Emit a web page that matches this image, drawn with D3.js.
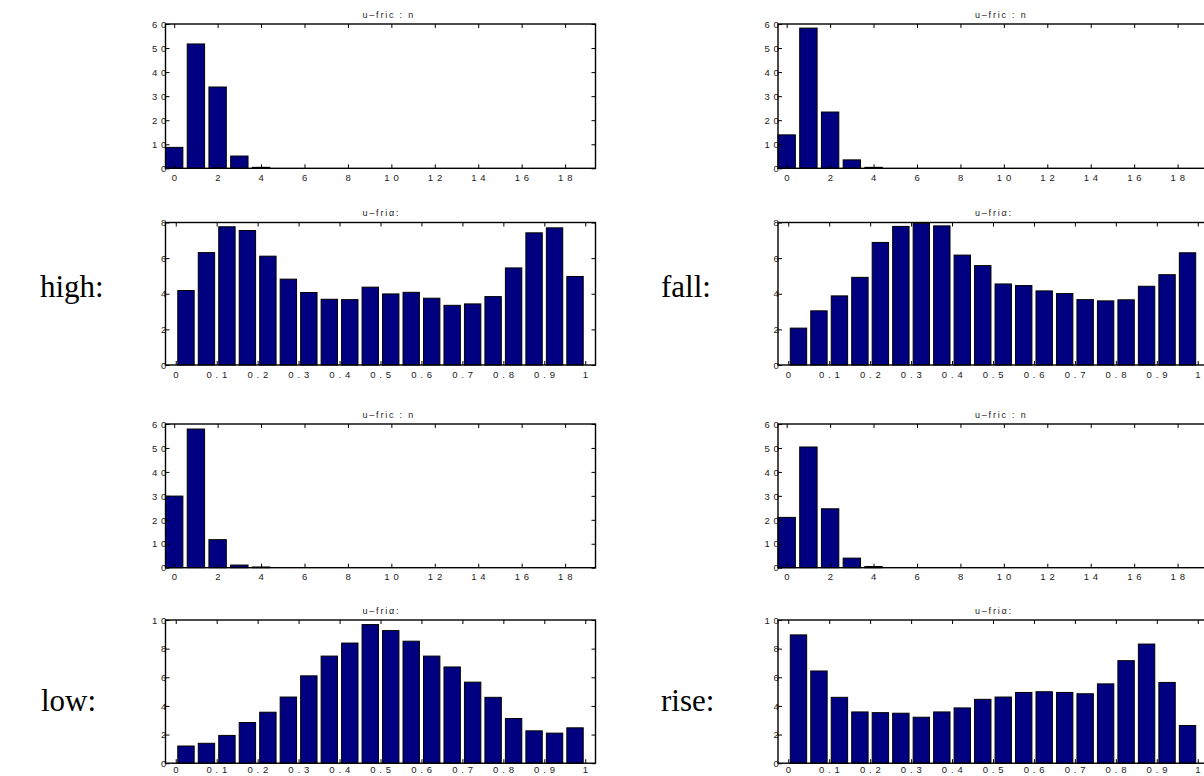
<!DOCTYPE html>
<html>
<head>
<meta charset="utf-8">
<script src="https://cdn.jsdelivr.net/npm/d3@7"></script>
<style>
  html, body { margin: 0; padding: 0; background: #fff; }
  svg { display: block; }
  .tick text { font-family: "Liberation Sans", Arial, sans-serif; font-size: 9.5px; fill: #222; letter-spacing: 0.6px; }
</style>
</head>
<body>
<svg id="chart" width="1204" height="776"></svg>
<script>
// ---------- data ----------
const countBins = [0,1,2,3,4,5,6,7,8,9,10,11,12,13,14,15,16,17,18,19];
const alphaBins = [0.025,0.075,0.125,0.175,0.225,0.275,0.325,0.375,0.425,0.475,
                   0.525,0.575,0.625,0.675,0.725,0.775,0.825,0.875,0.925,0.975];

const highCounts = [8.7, 51.7, 33.8, 5.1, 0.4, 0,0,0,0,0,0,0,0,0,0,0,0,0,0,0];
const highAlpha  = [4.18, 6.31, 7.76, 7.55, 6.11, 4.82, 4.07, 3.69, 3.67, 4.37,
                    3.99, 4.08, 3.75, 3.35, 3.43, 3.84, 5.45, 7.42, 7.70, 4.97];
const fallCounts = [13.9, 58.3, 23.4, 3.5, 0.4, 0,0,0,0,0,0,0,0,0,0,0,0,0,0,0];
const fallAlpha  = [2.07, 3.04, 3.88, 4.92, 6.88, 7.78, 7.96, 7.81, 6.17, 5.58,
                    4.55, 4.46, 4.16, 4.01, 3.67, 3.60, 3.66, 4.42, 5.07, 6.30];
const lowCounts  = [29.9, 57.9, 11.7, 1.1, 0.3, 0,0,0,0,0,0,0,0,0,0,0,0,0,0,0];
const lowAlpha   = [1.20, 1.39, 1.94, 2.84, 3.56, 4.62, 6.10, 7.48, 8.39, 9.68,
                    9.26, 8.52, 7.48, 6.72, 5.66, 4.60, 3.12, 2.26, 2.10, 2.47];
const riseCounts = [21.0, 50.4, 24.6, 4.0, 0.5, 0,0,0,0,0,0,0,0,0,0,0,0,0,0,0];
const riseAlpha  = [8.96, 6.44, 4.60, 3.58, 3.53, 3.49, 3.21, 3.58, 3.86, 4.46,
                    4.62, 4.94, 4.99, 4.94, 4.85, 5.54, 7.16, 8.32, 5.64, 2.63];

const countXTicks  = [0,2,4,6,8,10,12,14,16,18];
const countXLabels = ["0","2","4","6","8","1 0","1 2","1 4","1 6","1 8"];
const alphaXTicks  = [0,0.1,0.2,0.3,0.4,0.5,0.6,0.7,0.8,0.9,1];
const alphaXLabels = ["0","0 . 1","0 . 2","0 . 3","0 . 4","0 . 5","0 . 6","0 . 7","0 . 8","0 . 9","1"];
const countYTicks  = [0,10,20,30,40,50,60];
const countYLabels = ["0","1 0","2 0","3 0","4 0","5 0","6 0"];
const alpha8YTicks  = [0,2,4,6,8];
const alpha8YLabels = ["0","2","4","6","8"];
const alpha10YTicks  = [0,2,4,6,8,10];
const alpha10YLabels = ["0","2","4","6","8","1 0"];

const rowLabels = ["high:", "fall:", "low:", "rise:"];
const countTitle = "u\u2013fric : n";
const alphaTitle = "u\u2013fri\u03b1:";

// ---------- layout ----------
const svg = d3.select("#chart");
const W = 430;
const colX = [165.5, 778];
const rowY = [24, 222.5, 424, 620];
const rowH = [144.3, 142.5, 143.7, 143.2];
const rowPad = [6, 6, 6, 3];
const navy = "#000080";

function panel(px, py, h, pad, kind, values, yMax, yTicks, yLabels) {
  const g = svg.append("g");
  const isCount = kind === "count";
  const bins = isCount ? countBins : alphaBins;
  const x = d3.scaleLinear()
      .domain(isCount ? [-0.4, 19.4] : [-0.025, 1.025])
      .range([px, px + W]);
  const y = d3.scaleLinear().domain([0, yMax]).range([py + h, py]);
  const bw = isCount ? 0.8 : 0.04;

  g.selectAll("rect.bar").data(values).join("rect")
    .attr("class", "bar")
    .attr("x", (d, i) => x(bins[i] - bw / 2))
    .attr("width", (d, i) => x(bins[i] + bw / 2) - x(bins[i] - bw / 2))
    .attr("y", d => y(d))
    .attr("height", d => y(0) - y(d))
    .attr("fill", navy)
    .attr("stroke", "#000")
    .attr("stroke-width", 1);

  const xt = isCount ? countXTicks : alphaXTicks;
  const xl = isCount ? countXLabels : alphaXLabels;

  const ax = g.append("g").attr("transform", `translate(0,${py + h})`)
    .call(d3.axisBottom(x).tickValues(xt).tickSize(-4).tickPadding(pad)
      .tickFormat((d, i) => xl[i]));
  const at = g.append("g").attr("transform", `translate(0,${py})`)
    .call(d3.axisTop(x).tickValues(xt).tickSize(-4).tickFormat(""));
  const al = g.append("g").attr("transform", `translate(${px},0)`)
    .call(d3.axisLeft(y).tickValues(yTicks).tickSize(-4).tickPadding(0)
      .tickFormat((d, i) => yLabels[i]));
  const ar = g.append("g").attr("transform", `translate(${px + W},0)`)
    .call(d3.axisRight(y).tickValues(yTicks).tickSize(-4).tickFormat(""));

  [ax, at, al, ar].forEach(a => {
    a.select(".domain").remove();
    a.selectAll("line").attr("stroke", "#000").attr("stroke-width", 1);
  });
  al.selectAll("text").attr("dy", "0.34em").attr("x", 1.5);

  g.append("rect")
    .attr("x", px).attr("y", py).attr("width", W).attr("height", h)
    .attr("fill", "none").attr("stroke", "#000").attr("stroke-width", 1.4);

  g.append("text")
    .attr("x", px + 197).attr("y", py - 6.5)
    .attr("font-family", "Liberation Sans, Arial, sans-serif")
    .attr("font-size", 9).attr("letter-spacing", 1.8).attr("fill", "#222")
    .text(isCount ? countTitle : alphaTitle);
}

panel(colX[0], rowY[0], rowH[0], rowPad[0], "count", highCounts, 60, countYTicks, countYLabels);
panel(colX[0], rowY[1], rowH[1], rowPad[1], "alpha", highAlpha, 8, alpha8YTicks, alpha8YLabels);
panel(colX[0], rowY[2], rowH[2], rowPad[2], "count", lowCounts, 60, countYTicks, countYLabels);
panel(colX[0], rowY[3], rowH[3], rowPad[3], "alpha", lowAlpha, 10, alpha10YTicks, alpha10YLabels);
panel(colX[1], rowY[0], rowH[0], rowPad[0], "count", fallCounts, 60, countYTicks, countYLabels);
panel(colX[1], rowY[1], rowH[1], rowPad[1], "alpha", fallAlpha, 8, alpha8YTicks, alpha8YLabels);
panel(colX[1], rowY[2], rowH[2], rowPad[2], "count", riseCounts, 60, countYTicks, countYLabels);
panel(colX[1], rowY[3], rowH[3], rowPad[3], "alpha", riseAlpha, 10, alpha10YTicks, alpha10YLabels);

const labelPos = [[40, 297], [661, 297], [41, 711], [661, 711]];
rowLabels.forEach((t, i) => {
  svg.append("text")
    .attr("x", labelPos[i][0]).attr("y", labelPos[i][1])
    .attr("font-family", "Liberation Serif, Times New Roman, serif")
    .attr("font-size", 31).attr("fill", "#000")
    .text(t);
});
</script>
</body>
</html>
